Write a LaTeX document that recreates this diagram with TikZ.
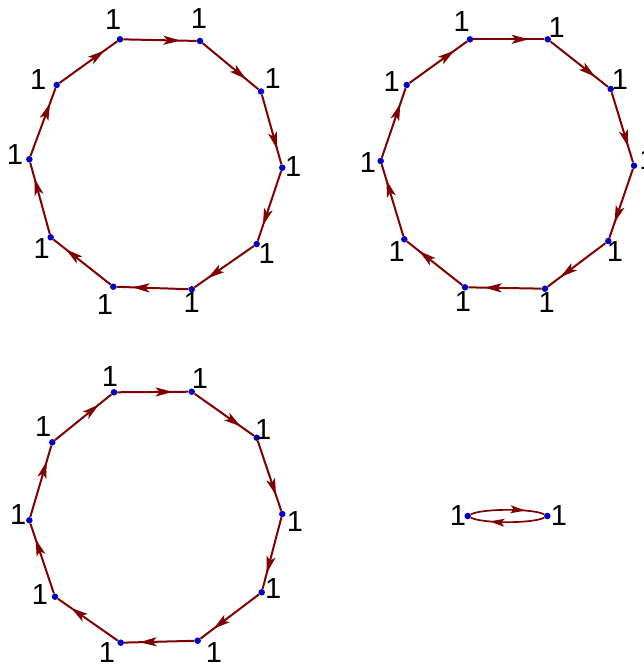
\documentclass[tikz,border=0pt]{standalone}
\usepackage{fontspec}
\setmainfont{Liberation Sans}
\usetikzlibrary{arrows.meta,decorations.markings}
\definecolor{edgec}{rgb}{0.5,0,0}
\definecolor{vertc}{rgb}{0,0,0.78}
\tikzset{
  vert/.style={circle,fill=vertc,inner sep=0pt,minimum size=6.5pt},
  lbl/.style={inner sep=0pt,font=\fontsize{29}{29}\selectfont,anchor=center},
  edg/.style={draw=edgec,line width=2pt,postaction={decorate},
    decoration={markings,mark=at position 0.78 with {\arrow[edgec]{Stealth[length=17pt,width=9pt,inset=4pt]}}}},
  edgb/.style={draw=edgec,line width=1.7pt,postaction={decorate},
    decoration={markings,mark=at position 0.74 with {\arrow[edgec]{Stealth[length=15pt,width=8pt,inset=3.5pt]}}}}
}
\begin{document}
\begin{tikzpicture}[x=1pt,y=1pt]
\useasboundingbox (0,0) rectangle (644,-666);
% ---------- graph 1 ----------
\node[vert] (a1) at (120,-39.3) {};
\node[vert] (a2) at (200,-41) {};
\node[vert] (a3) at (261,-91.5) {};
\node[vert] (a4) at (282.3,-167.7) {};
\node[vert] (a5) at (256.7,-244) {};
\node[vert] (a6) at (191.7,-289.3) {};
\node[vert] (a7) at (113.3,-286.7) {};
\node[vert] (a8) at (50.7,-237.3) {};
\node[vert] (a9) at (29.3,-159.3) {};
\node[vert] (a10) at (56.7,-85) {};
\node[lbl] (a1l) at (113.3,-20) {1};
\node[lbl] (a2l) at (199,-18.3) {1};
\node[lbl] (a3l) at (272.7,-78.3) {1};
\node[lbl] (a4l) at (293.3,-166.7) {1};
\node[lbl] (a5l) at (266.7,-253.3) {1};
\node[lbl] (a6l) at (191.7,-303) {1};
\node[lbl] (a7l) at (105,-305) {1};
\node[lbl] (a8l) at (41.7,-248.3) {1};
\node[lbl] (a9l) at (15,-154.5) {1};
\node[lbl] (a10l) at (38.3,-80) {1};
\foreach \s/\t in {a1/a2,a2/a3,a3/a4,a4/a5,a5/a6,a6/a7,a7/a8,a8/a9,a9/a10,a10/a1}
  \path[edg] (\s) -- (\t);
% ---------- graph 2 ----------
\node[vert] (b1) at (470,-39.3) {};
\node[vert] (b2) at (547.7,-39.3) {};
\node[vert] (b3) at (610.7,-89) {};
\node[vert] (b4) at (634,-165.7) {};
\node[vert] (b5) at (608.3,-241) {};
\node[vert] (b6) at (545,-288.7) {};
\node[vert] (b7) at (465,-287.3) {};
\node[vert] (b8) at (404.3,-239.3) {};
\node[vert] (b9) at (380.7,-161) {};
\node[vert] (b10) at (406.7,-85) {};
\node[lbl] (b1l) at (461.7,-21.7) {1};
\node[lbl] (b2l) at (556.7,-28) {1};
\node[lbl] (b3l) at (620,-80) {1};
\node[lbl] (b4l) at (647.5,-160) {1};
\node[lbl] (b5l) at (615,-252) {1};
\node[lbl] (b6l) at (546.7,-303) {1};
\node[lbl] (b7l) at (463,-302) {1};
\node[lbl] (b8l) at (396.7,-252) {1};
\node[lbl] (b9l) at (368,-163) {1};
\node[lbl] (b10l) at (391.7,-81.7) {1};
\foreach \s/\t in {b1/b2,b2/b3,b3/b4,b4/b5,b5/b6,b6/b7,b7/b8,b8/b9,b9/b10,b10/b1}
  \path[edg] (\s) -- (\t);
% ---------- graph 3 ----------
\node[vert] (c1) at (114,-392.3) {};
\node[vert] (c2) at (191.7,-391.7) {};
\node[vert] (c3) at (256.7,-437.7) {};
\node[vert] (c4) at (282.3,-514) {};
\node[vert] (c5) at (261.7,-592.3) {};
\node[vert] (c6) at (197.7,-640.7) {};
\node[vert] (c7) at (120.7,-642.7) {};
\node[vert] (c8) at (55,-596.7) {};
\node[vert] (c9) at (29.3,-520.3) {};
\node[vert] (c10) at (52.3,-442.3) {};
\node[lbl] (c1l) at (110,-376.7) {1};
\node[lbl] (c2l) at (200,-378.3) {1};
\node[lbl] (c3l) at (263.3,-430) {1};
\node[lbl] (c4l) at (295,-521.7) {1};
\node[lbl] (c5l) at (273.3,-588.3) {1};
\node[lbl] (c6l) at (214,-653) {1};
\node[lbl] (c7l) at (107,-653) {1};
\node[lbl] (c8l) at (40,-595) {1};
\node[lbl] (c9l) at (18.3,-515) {1};
\node[lbl] (c10l) at (43.3,-426.7) {1};
\foreach \s/\t in {c1/c2,c2/c3,c3/c4,c4/c5,c5/c6,c6/c7,c7/c8,c8/c9,c9/c10,c10/c1}
  \path[edg] (\s) -- (\t);
% ---------- graph 4 ----------
\node[vert] (d1) at (467.7,-516) {};
\node[vert] (d2) at (547.3,-516) {};
\node[lbl] (d1l) at (458,-516) {1};
\node[lbl] (d2l) at (559,-516) {1};
\path[edgb] (d1) to[out=28,in=152,looseness=0.45] (d2);
\path[edgb] (d2) to[out=-152,in=-28,looseness=0.45] (d1);
\end{tikzpicture}
\end{document}
